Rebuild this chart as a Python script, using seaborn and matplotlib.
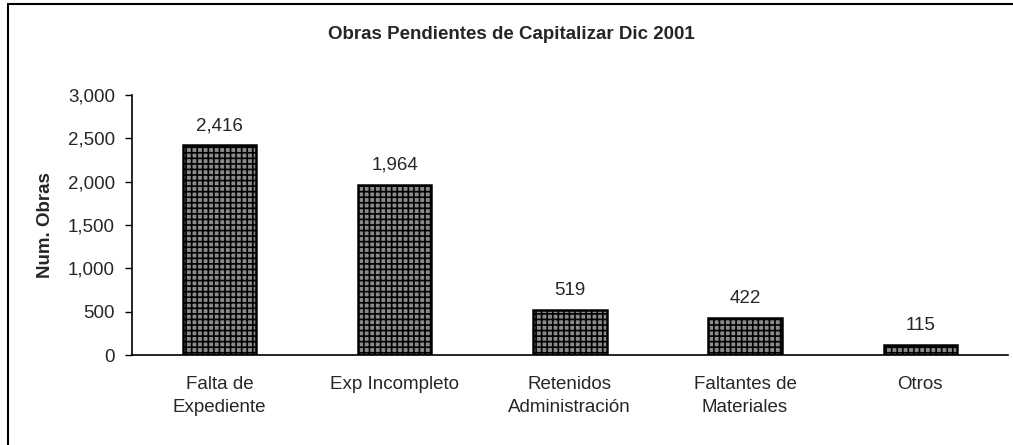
import matplotlib
matplotlib.use("Agg")
import matplotlib.pyplot as plt
import pandas as pd
import seaborn as sns
from matplotlib.lines import Line2D

categories = ["Falta de\nExpediente", "Exp Incompleto", "Retenidos\nAdministración",
              "Faltantes de\nMateriales", "Otros"]
obras = [2416, 1964, 519, 422, 115]
y_ticks = [0, 500, 1000, 1500, 2000, 2500, 3000]

FS = 13.5

sns.set_theme(style="white")
plt.rcParams["font.family"] = ["Liberation Sans", "DejaVu Sans"]
plt.rcParams["hatch.color"] = "#1a1a1a"
plt.rcParams["hatch.linewidth"] = 1.2

df = pd.DataFrame({"categoria": categories, "obras": obras})

fig = plt.figure(figsize=(10.13, 4.45), dpi=100)
ax = fig.add_axes([0.130, 0.202, 0.865, 0.585])

sns.barplot(data=df, x="categoria", y="obras", ax=ax, color="#8a8a8a",
            width=0.42, edgecolor="black", linewidth=1.8, saturation=1)
for patch in ax.patches:
    patch.set_hatch("+++")

for bar, val in zip(ax.patches, obras):
    ax.annotate(f"{val:,}", (bar.get_x() + bar.get_width() / 2, val),
                xytext=(0, 8), textcoords="offset points",
                ha="center", va="bottom", fontsize=FS)

ax.set_xlim(-0.5, len(categories) - 0.5)
ax.set_ylim(0, 3000)
ax.set_yticks(y_ticks)
ax.set_yticklabels([f"{t:,}" for t in y_ticks], fontsize=FS)
ax.set_xticks([i - 0.5 for i in range(len(categories) + 1)], minor=False)
ax.set_xticklabels([])
ax.set_xticks(range(len(categories)), minor=True)
ax.set_xticklabels(categories, minor=True, fontsize=FS, linespacing=1.45)
ax.tick_params(axis="x", which="major", direction="out", length=6, width=1, color="black")
ax.tick_params(axis="x", which="minor", length=0, pad=15)
ax.tick_params(axis="y", direction="out", length=5, width=1, color="black", left=True, pad=7)
ax.set_xlabel("")
ax.set_ylabel("Num. Obras", fontsize=FS, fontweight="bold", labelpad=10)

for side in ["top", "right"]:
    ax.spines[side].set_visible(False)
for side in ["left", "bottom"]:
    ax.spines[side].set_color("black")
    ax.spines[side].set_linewidth(1.2)

fig.text(0.505, 0.922, "Obras Pendientes de Capitalizar Dic 2001",
         ha="center", va="center", fontsize=FS, fontweight="bold")

# outer frame (top and left edges, as in the scanned original)
fig.add_artist(Line2D([0.008, 1.0], [0.992, 0.992], transform=fig.transFigure,
                      color="black", linewidth=1.5))
fig.add_artist(Line2D([0.008, 0.008], [0.0, 0.992], transform=fig.transFigure,
                      color="black", linewidth=1.5))

fig.savefig("out.png", dpi=100)
